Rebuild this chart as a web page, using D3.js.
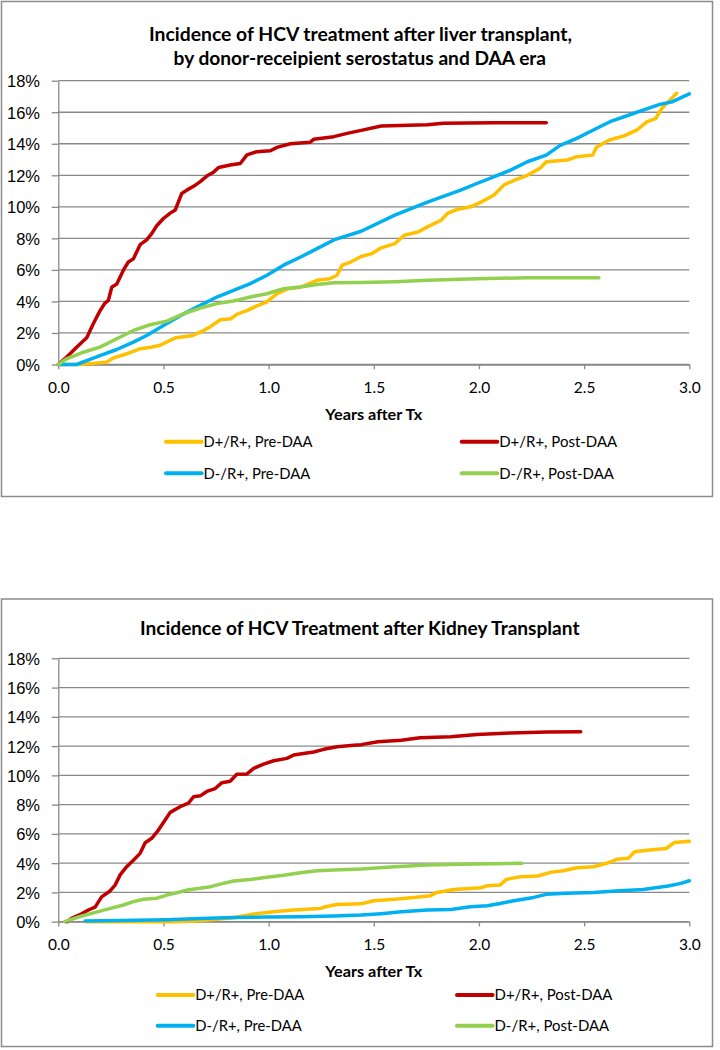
<!DOCTYPE html>
<html><head><meta charset="utf-8">
<script src="https://cdn.jsdelivr.net/npm/d3@7"></script>
<style>body{margin:0;background:#fff;} svg{display:block}</style>
</head><body><svg id="c" width="720" height="1050"></svg>
<script>
// ---------- data ----------
const xTicks = [0, 0.5, 1, 1.5, 2, 2.5, 3];
const yTicks = [0, 2, 4, 6, 8, 10, 12, 14, 16, 18];
const seriesNames = ["D+/R+, Pre-DAA", "D+/R+, Post-DAA", "D-/R+, Pre-DAA", "D-/R+, Post-DAA"];
const liverTitle = ["Incidence of HCV treatment after liver transplant,", "by donor-receipient serostatus and DAA era"];
const kidneyTitle = ["Incidence of HCV Treatment after Kidney Transplant"];
const xAxisTitle = "Years after Tx";

// Liver transplant: [years, cumulative incidence %]
const liverPreDpos = [[0,0],[0.10,0],[0.23,0.15],[0.26,0.4],[0.325,0.68],[0.39,1.0],[0.44,1.1],[0.48,1.2],[0.52,1.46],[0.56,1.7],[0.64,1.84],[0.675,2.05],[0.72,2.37],[0.77,2.84],[0.82,2.9],[0.85,3.2],[0.90,3.43],[0.94,3.7],[0.99,3.96],[1.04,4.5],[1.09,4.8],[1.15,4.9],[1.23,5.34],[1.29,5.44],[1.325,5.66],[1.35,6.3],[1.39,6.5],[1.44,6.85],[1.49,7.03],[1.535,7.4],[1.6,7.67],[1.645,8.2],[1.71,8.4],[1.755,8.73],[1.82,9.15],[1.85,9.58],[1.9,9.85],[1.96,10.0],[2.01,10.3],[2.07,10.74],[2.12,11.4],[2.17,11.7],[2.23,12.0],[2.29,12.44],[2.32,12.86],[2.42,12.97],[2.465,13.18],[2.54,13.28],[2.56,13.8],[2.62,14.24],[2.69,14.5],[2.75,14.87],[2.8,15.4],[2.84,15.6],[2.87,16.25],[2.91,16.8],[2.94,17.2]];
const liverPostDpos = [[0,0],[0.04,0.47],[0.087,1.1],[0.135,1.7],[0.167,2.6],[0.198,3.4],[0.222,3.9],[0.238,4.07],[0.254,4.9],[0.278,5.1],[0.31,6.0],[0.333,6.5],[0.357,6.7],[0.389,7.6],[0.42,7.9],[0.444,8.3],[0.468,8.8],[0.5,9.26],[0.532,9.6],[0.556,9.8],[0.587,10.85],[0.611,11.06],[0.643,11.3],[0.675,11.6],[0.706,11.95],[0.738,12.2],[0.762,12.5],[0.817,12.65],[0.865,12.75],[0.897,13.3],[0.944,13.5],[1.008,13.56],[1.04,13.77],[1.103,14.0],[1.198,14.1],[1.214,14.28],[1.31,14.45],[1.373,14.66],[1.44,14.85],[1.535,15.13],[1.755,15.2],[1.83,15.3],[2.07,15.34],[2.32,15.34]];
const liverPreDneg = [[0,0],[0.087,0],[0.135,0.25],[0.198,0.57],[0.278,0.95],[0.357,1.42],[0.42,1.84],[0.5,2.48],[0.58,3.1],[0.675,3.75],[0.754,4.28],[0.833,4.7],[0.913,5.13],[0.992,5.66],[1.071,6.3],[1.15,6.8],[1.23,7.35],[1.31,7.9],[1.44,8.45],[1.6,9.47],[1.755,10.3],[1.913,11.06],[1.99,11.48],[2.07,11.9],[2.15,12.33],[2.23,12.86],[2.32,13.28],[2.386,13.9],[2.465,14.34],[2.544,14.87],[2.623,15.4],[2.7,15.76],[2.78,16.14],[2.86,16.5],[2.92,16.67],[3.0,17.16]];
const liverPostDneg = [[0,0],[0.04,0.36],[0.119,0.78],[0.198,1.1],[0.278,1.63],[0.357,2.16],[0.437,2.52],[0.516,2.75],[0.595,3.22],[0.675,3.58],[0.754,3.86],[0.833,4.03],[0.913,4.28],[0.992,4.49],[1.071,4.81],[1.15,4.92],[1.23,5.08],[1.31,5.18],[1.44,5.2],[1.6,5.25],[1.755,5.34],[1.99,5.44],[2.23,5.5],[2.57,5.5]];

// Kidney transplant: [years, cumulative incidence %]
const kidneyPreDpos = [[0.13,0],[0.55,0],[0.65,0.05],[0.74,0.15],[0.833,0.27],[0.929,0.52],[1.024,0.68],[1.119,0.8],[1.246,0.91],[1.27,1.02],[1.325,1.18],[1.44,1.22],[1.5,1.43],[1.6,1.53],[1.69,1.66],[1.77,1.78],[1.8,2.0],[1.88,2.2],[2.01,2.32],[2.04,2.46],[2.1,2.5],[2.13,2.89],[2.2,3.08],[2.28,3.12],[2.34,3.37],[2.4,3.48],[2.465,3.69],[2.544,3.76],[2.607,3.99],[2.655,4.26],[2.71,4.33],[2.74,4.78],[2.81,4.9],[2.89,5.0],[2.93,5.42],[3.0,5.49]];
const kidneyPostDpos = [[0.04,0],[0.063,0.23],[0.1,0.46],[0.143,0.8],[0.175,1.0],[0.206,1.7],[0.246,2.1],[0.27,2.5],[0.294,3.2],[0.325,3.76],[0.357,4.2],[0.389,4.67],[0.413,5.4],[0.444,5.7],[0.476,6.26],[0.508,6.95],[0.532,7.47],[0.579,7.86],[0.619,8.1],[0.643,8.54],[0.675,8.6],[0.706,8.9],[0.746,9.1],[0.778,9.5],[0.817,9.6],[0.849,10.07],[0.897,10.1],[0.929,10.48],[0.976,10.77],[1.024,11.0],[1.087,11.16],[1.119,11.39],[1.15,11.46],[1.214,11.6],[1.262,11.78],[1.325,11.96],[1.405,12.05],[1.44,12.1],[1.52,12.3],[1.63,12.4],[1.72,12.57],[1.866,12.64],[1.99,12.8],[2.15,12.9],[2.323,12.96],[2.484,12.98]];
const kidneyPreDneg = [[0.127,0.05],[0.3,0.08],[0.516,0.14],[0.675,0.22],[0.833,0.28],[0.992,0.32],[1.15,0.34],[1.31,0.39],[1.44,0.45],[1.535,0.55],[1.63,0.68],[1.755,0.8],[1.866,0.84],[1.96,1.02],[2.04,1.09],[2.1,1.25],[2.166,1.43],[2.26,1.66],[2.32,1.87],[2.418,1.94],[2.544,2.0],[2.67,2.12],[2.78,2.2],[2.9,2.44],[2.96,2.62],[3.0,2.8]];
const kidneyPostDneg = [[0.03,0],[0.1,0.34],[0.167,0.6],[0.23,0.84],[0.31,1.14],[0.357,1.37],[0.405,1.53],[0.468,1.6],[0.516,1.82],[0.563,1.98],[0.611,2.16],[0.675,2.28],[0.722,2.39],[0.77,2.57],[0.833,2.78],[0.913,2.89],[0.992,3.03],[1.071,3.17],[1.15,3.35],[1.23,3.48],[1.31,3.53],[1.44,3.6],[1.6,3.76],[1.755,3.87],[1.913,3.92],[2.205,3.99]];

// ---------- styles ----------
const seriesColors = ["#FFC000", "#C00000", "#00B0F0", "#92D050"];
const gridColor = "#898989";
const calibriLike = "Lato, 'Open Sans', 'DejaVu Sans', sans-serif";
const arialLike = "'Liberation Sans', Arial, sans-serif";

const svg = d3.select("#c");

const panels = [
  {
    series: [liverPreDpos, liverPostDpos, liverPreDneg, liverPostDneg],
    title: liverTitle,
    titleLayout: [{x:149, y:40.5, w:423}, {x:173.6, y:64.5, w:372.5}],
    box: {x:1.5, y:1.5, w:711, h:495},
    y0: 364.5, y18: 80.7,
    legendRows: [441.7, 473.3],
    legendX: [166, 461.7]
  },
  {
    series: [kidneyPreDpos, kidneyPostDpos, kidneyPreDneg, kidneyPostDneg],
    title: kidneyTitle,
    titleLayout: [{x:140, y:634.5, w:439.5}],
    box: {x:1.5, y:599, w:711, h:447.5},
    y0: 921.7, y18: 658.3,
    legendRows: [995, 1025.7],
    legendX: [157.7, 457]
  }
];

const legendTextW = [109, 118, 106.7, 114.7];

panels.forEach(p => {
  const g = svg.append("g");
  const x = d3.scaleLinear().domain([0, 3]).range([58.3, 689.3]);
  const y = d3.scaleLinear().domain([0, 18]).range([p.y0, p.y18]);

  // frame
  g.append("rect").attr("x", p.box.x).attr("y", p.box.y).attr("width", p.box.w).attr("height", p.box.h)
    .attr("fill", "#fff").attr("stroke", "#8c8c8c").attr("stroke-width", 1.5);

  // title
  p.title.forEach((t, i) => {
    const L = p.titleLayout[i];
    g.append("text").attr("x", L.x).attr("y", L.y).text(t)
      .attr("font-family", calibriLike).attr("font-weight", "bold").attr("font-size", 18)
      .attr("fill", "#000").attr("textLength", L.w).attr("lengthAdjust", "spacingAndGlyphs");
  });

  // gridlines
  g.append("g").selectAll("line").data(yTicks).join("line")
    .attr("x1", x(0)).attr("x2", x(3))
    .attr("y1", d => y(d)).attr("y2", d => y(d))
    .attr("stroke", gridColor).attr("stroke-width", 1.3);

  // y axis
  const ya = g.append("g").attr("transform", `translate(${x(0)},0)`)
    .call(d3.axisLeft(y).tickValues(yTicks).tickFormat(d => d + "%")
      .tickSizeInner(6.6).tickSizeOuter(0).tickPadding(11.7));
  ya.select(".domain").attr("stroke", gridColor).attr("stroke-width", 1.3);
  ya.selectAll(".tick line").attr("stroke", gridColor).attr("stroke-width", 1.3);
  ya.selectAll(".tick text").attr("font-family", arialLike).attr("font-size", 16.5)
    .attr("fill", "#000").attr("dy", "0.36em");

  // x axis
  const xa = g.append("g").attr("transform", `translate(0,${y(0)})`)
    .call(d3.axisBottom(x).tickValues(xTicks).tickFormat(d3.format(".1f"))
      .tickSizeInner(4.7).tickSizeOuter(0));
  xa.select(".domain").attr("stroke", gridColor).attr("stroke-width", 1.3);
  xa.selectAll(".tick line").attr("stroke", gridColor).attr("stroke-width", 1.3);
  xa.selectAll(".tick text").attr("font-family", calibriLike).attr("font-size", 15.5)
    .attr("fill", "#000").attr("y", 22.8).attr("dy", "0.35em");

  // axis title
  g.append("text").attr("x", (x(0) + x(3)) / 2).attr("y", y(0) + 55).text(xAxisTitle)
    .attr("text-anchor", "middle").attr("font-family", calibriLike).attr("font-weight", "bold")
    .attr("font-size", 15).attr("fill", "#000").attr("textLength", 97).attr("lengthAdjust", "spacingAndGlyphs");

  // series
  const line = d3.line().x(d => x(d[0])).y(d => y(d[1])).curve(d3.curveLinear);
  g.append("g").selectAll("path").data(p.series).join("path")
    .attr("d", line).attr("fill", "none")
    .attr("stroke", (d, i) => seriesColors[i]).attr("stroke-width", 3.5)
    .attr("stroke-linejoin", "round").attr("stroke-linecap", "round");

  // legend
  const lg = g.append("g");
  seriesNames.forEach((name, i) => {
    const row = Math.floor(i / 2), col = i % 2;
    const lx = p.legendX[col], ly = p.legendRows[row];
    lg.append("line").attr("x1", lx).attr("x2", lx + 35.6).attr("y1", ly).attr("y2", ly)
      .attr("stroke", seriesColors[i]).attr("stroke-width", 4).attr("stroke-linecap", "round");
    lg.append("text").attr("x", lx + 37.5).attr("y", ly + 5.3).text(name)
      .attr("font-family", calibriLike).attr("font-size", 15).attr("fill", "#000")
      .attr("textLength", legendTextW[i]).attr("lengthAdjust", "spacingAndGlyphs");
  });
});
</script>
</body></html>
